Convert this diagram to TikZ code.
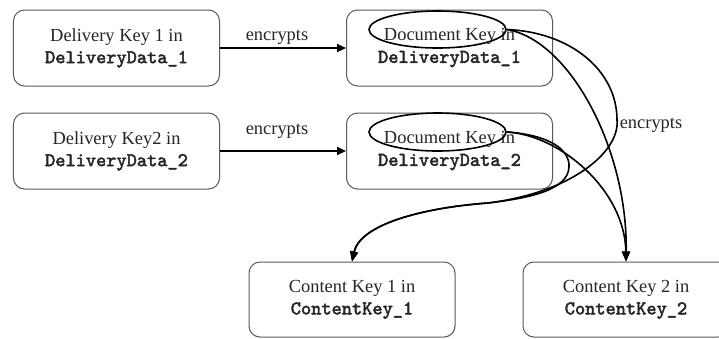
\documentclass[tikz,border=0pt]{standalone}
\usepackage{fontspec}
\setmainfont{Liberation Serif}
\newfontfamily\monob[FakeBold=2.5]{lmmono10-regular.otf}
\usetikzlibrary{shapes.geometric,arrows.meta}
\newcommand{\mono}[1]{{\fontsize{19.5}{22}\selectfont\monob #1}}
\tikzset{
  keybox/.style={draw=black!65, line width=1bp, rounded corners=11bp,
    minimum width=206bp, minimum height=76bp, inner sep=0pt, align=center,
    font=\fontsize{18.5}{22}\selectfont, text=black!85},
  keyell/.style={ellipse, draw=black, line width=1.6bp, minimum width=137bp,
    minimum height=37bp, inner sep=0pt},
  arr/.style={line width=1.8bp, -{Triangle[length=9bp,width=8bp]}},
  curv/.style={line width=1.6bp, -{Triangle[length=10bp,width=8bp]}},
  lbl/.style={font=\fontsize{18.5}{22}\selectfont, text=black!85, inner sep=0pt},
}
\begin{document}
\begin{tikzpicture}[x=1bp,y=-1bp]
\clip (0,0) rectangle (719,338);
\fill[white] (0,0) rectangle (719,338);
% boxes
\node[keybox] (dk1) at (116.5,48) {Delivery Key 1 in\\\mono{DeliveryData\_1}};
\node[keybox] (dk2) at (116.5,151) {Delivery Key2 in\\\mono{DeliveryData\_2}};
\node[keybox] (doc1) at (449.5,48) {Document Key in\\\mono{DeliveryData\_1}};
\node[keybox] (doc2) at (449.5,151) {Document Key in\\\mono{DeliveryData\_2}};
\node[keybox, minimum height=75bp] (ck1) at (352,299.5) {Content Key 1 in\\\mono{ContentKey\_1}};
\node[keybox, minimum height=75bp] (ck2) at (626,299.5) {Content Key 2 in\\\mono{ContentKey\_2}};
% ellipses
\node[keyell] (e1) at (437.5,29.5) {};
\node[keyell, minimum height=38bp] (e2) at (437.5,132) {};
% straight arrows
\draw[arr] (dk1) -- (doc1);
\draw[arr] (dk2) -- (doc2);
\node[lbl] (l1) at (277,37) {encrypts};
\node[lbl] (l2) at (277,131) {encrypts};
\node[lbl] (l3) at (651,125) {encrypts};
% curved arrows
\draw[curv] (e1.east) .. controls (570,40) and (628,150) .. (ck2.north);
\draw[curv] (e1.east) .. controls (570,32) and (617,70) .. (617,120)
   .. controls (620,150) and (575,192) .. (488,203)
   .. controls (420,208) and (360,225) .. (ck1.north);
\draw[curv] (e2.east) .. controls (560,135) and (625,190) .. (ck2.north);
\draw[curv] (e2.east) .. controls (550,135) and (570,150) .. (569,167)
   .. controls (568,190) and (530,198) .. (488,203)
   .. controls (420,208) and (360,225) .. (ck1.north);
\end{tikzpicture}
\end{document}
